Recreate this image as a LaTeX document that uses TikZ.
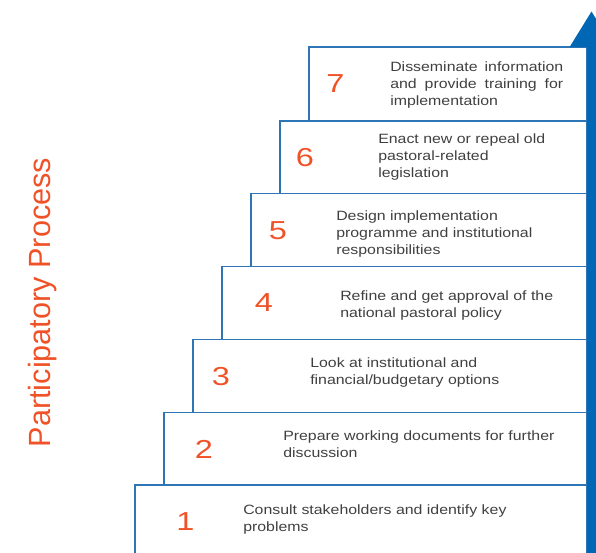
\documentclass[tikz,border=0pt]{standalone}
\usepackage{fontspec}
\setmainfont{Liberation Sans}
\newfontfamily\boxfont{Liberation Sans}[FakeStretch=1.18]
\newfontfamily\numfont{Liberation Sans}[FakeStretch=1.25]
\usepackage{tikz}
\usetikzlibrary{arrows.meta}
\definecolor{stepblue}{RGB}{46,117,182}
\definecolor{arrowblue}{RGB}{0,103,180}
\definecolor{numorange}{RGB}{240,82,40}
\definecolor{textgrey}{RGB}{64,64,64}
\newlength\px
\setlength\px{0.75pt}

\begin{document}
\begin{tikzpicture}[x=0.75pt, y=-0.75pt,
  stepbox/.style={draw=stepblue, line width=1.5\px, rectangle, inner sep=0pt, outer sep=0pt, anchor=north west},
  stepnum/.style={text=numorange, font=\numfont\fontsize{19.5}{20}\selectfont, inner sep=0pt},
  steptext/.style={text=textgrey, font=\boxfont\fontsize{10.1}{12.75}\selectfont, align=left, anchor=west, inner sep=0pt},
  sidelabel/.style={text=numorange, font=\fontsize{23}{26}\selectfont, rotate=90, inner sep=0pt},
  uparrow/.style={arrowblue, line width=6.75pt, -{Triangle[length=27pt, width=30.75pt]}}
]
\useasboundingbox (0,0) rectangle (596,553);
%%% staircase of steps %%%

      \node[sidelabel] (side) at (42.5,302.5) {Participatory Process};

      %% step 1
      \node[stepbox, minimum width=452\px, minimum height=75\px] (s1) at (135,485) {};
      \node[stepnum] (n1) at (185.5,522) {1};
      \node[steptext] (t1) at (243,519.5) {Consult stakeholders and identify key\\problems};
      %% step 2
      \node[stepbox, minimum width=423\px, minimum height=72.5\px] (s2) at (164,412.5) {};
      \node[stepnum] (n2) at (204,449) {2};
      \node[steptext] (t2) at (283,444.5) {Prepare working documents for further\\discussion};
      %% step 3
      \node[stepbox, minimum width=394\px, minimum height=73\px] (s3) at (193,339.5) {};
      \node[stepnum] (n3) at (221,377) {3};
      \node[steptext] (t3) at (310,373) {Look at institutional and\\financial/budgetary options};
      %% step 4
      \node[stepbox, minimum width=365\px, minimum height=73\px] (s4) at (222,266.5) {};
      \node[stepnum] (n4) at (264,303) {4};
      \node[steptext] (t4) at (340,305.5) {Refine and get approval of the\\national pastoral policy};
      %% step 5
      \node[stepbox, minimum width=336\px, minimum height=73\px] (s5) at (251,193.5) {};
      \node[stepnum] (n5) at (278,231) {5};
      \node[steptext] (t5) at (336,234.5) {Design implementation\\programme and institutional\\responsibilities};
      %% step 6
      \node[stepbox, minimum width=307\px, minimum height=72.5\px] (s6) at (280,121) {};
      \node[stepnum] (n6) at (305,157.5) {6};
      \node[steptext] (t6) at (378,157.5) {Enact new or repeal old\\pastoral-related\\legislation};
      %% step 7
      \node[stepbox, minimum width=278\px, minimum height=74\px] (s7) at (309,47) {};
      \node[stepnum] (n7) at (335.5,83.5) {7};
      \node[steptext] (t7) at (390,85) {\makebox[173\px][s]{Disseminate information}\\\makebox[173\px][s]{and provide training for}\\implementation};

      %% arrow up the right side
      \coordinate (abase) at (591.5,570);
      \coordinate (atip) at (591.5,11);
      \draw[uparrow] (abase) -- (atip);

\end{tikzpicture}
\end{document}
